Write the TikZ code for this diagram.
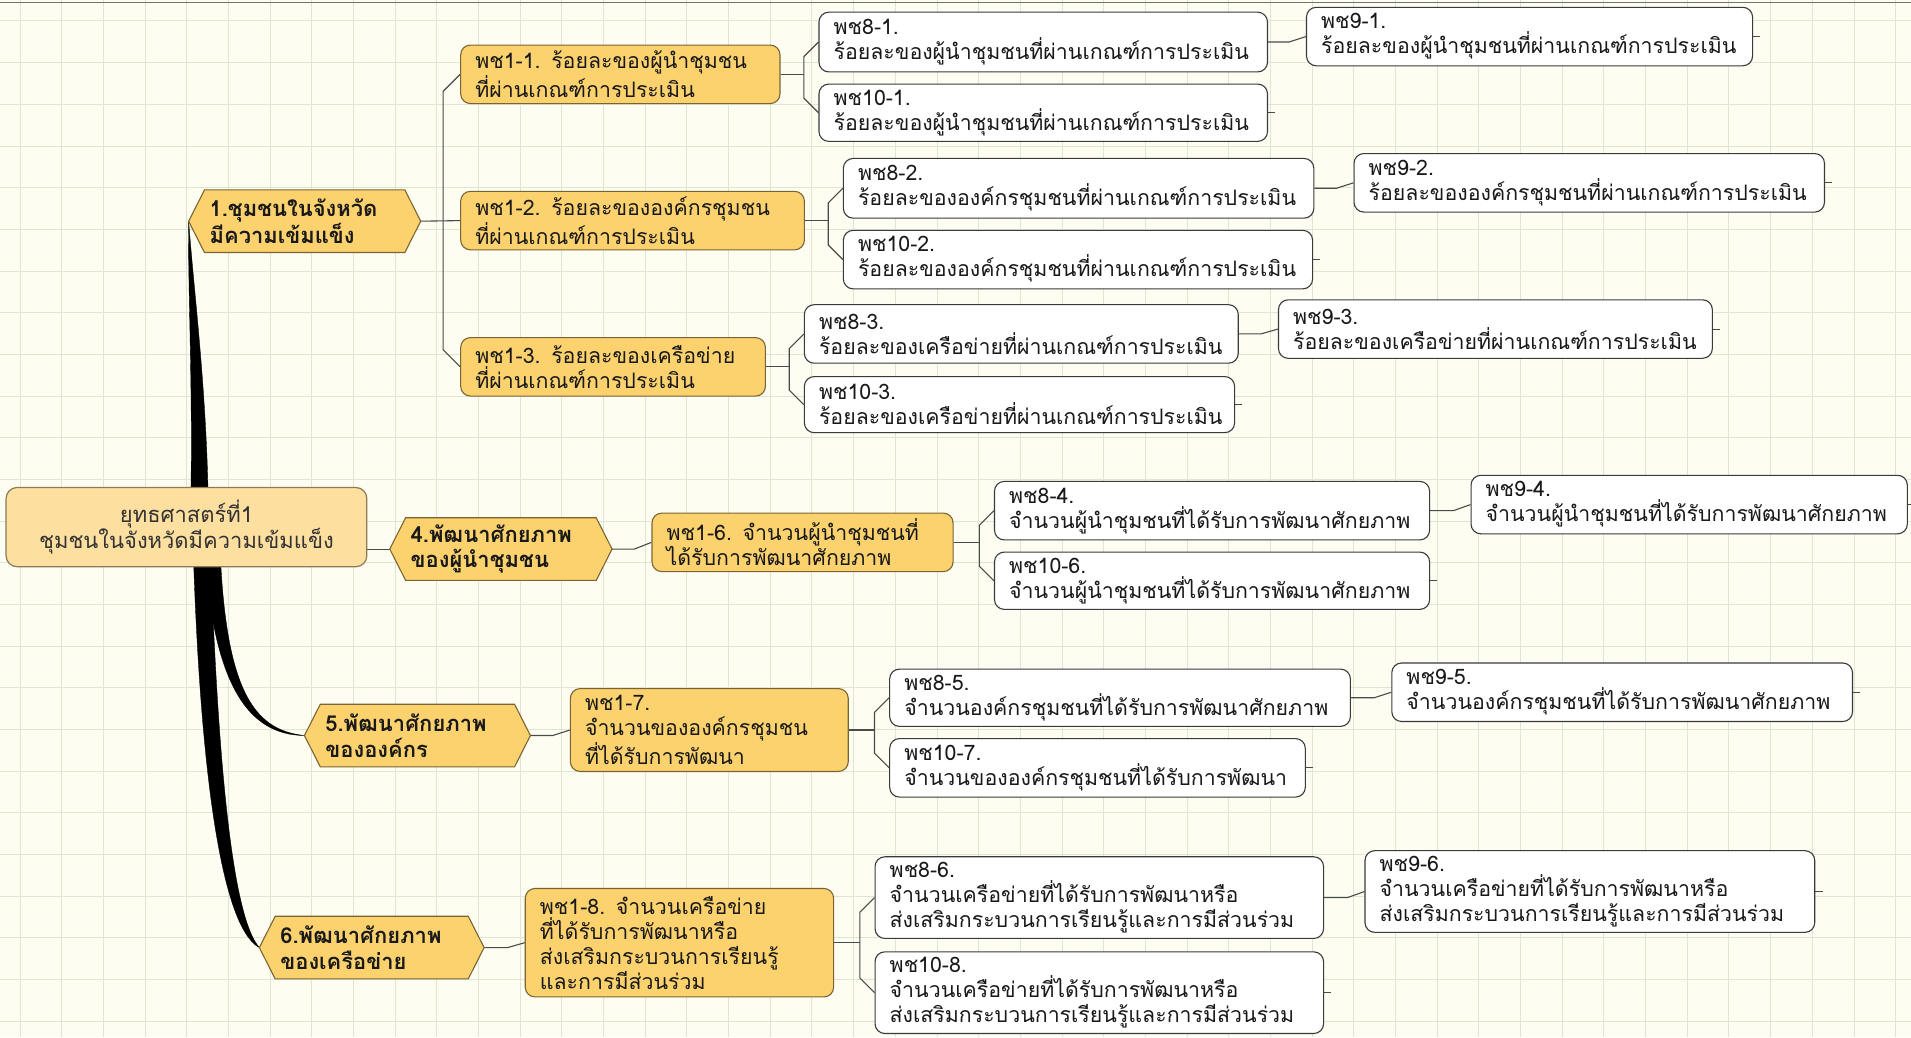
\documentclass[tikz,border=0pt]{standalone}
\usepackage{fontspec}
\usetikzlibrary{calc}
\newfontfamily\thai[Script=Thai]{Loma}
\definecolor{bgc}{HTML}{FDFDF1}
\definecolor{gridc}{HTML}{DEE5D2}
\definecolor{rootfill}{HTML}{FDDFA0}
\definecolor{rootdraw}{HTML}{8C7B55}
\definecolor{goldfill}{HTML}{FBD26E}
\definecolor{golddraw}{HTML}{7A6532}
\definecolor{boxdraw}{HTML}{3A3A3A}
\definecolor{conncol}{HTML}{4A4A4A}
\pgfdeclarelayer{gridlayer}
\pgfdeclarelayer{connlayer}
\pgfdeclarelayer{hexlayer}
\pgfsetlayers{gridlayer,connlayer,hexlayer,main}
\tikzset{
  txt/.style={font=\thai\fontsize{17.5}{20.5}\selectfont},
  rootbox/.style={font=\thai\fontsize{18}{22}\selectfont, rounded corners=9, draw=rootdraw, fill=rootfill, line width=1, align=center, text=black!80, minimum width=296, minimum height=65},
  catbox/.style={font=\thai\bfseries\fontsize{18}{21}\selectfont, align=left, inner xsep=17, inner ysep=2, text=black!90},
  catshape/.style={fill=goldfill, draw=golddraw, line width=0.9},
  lvtwo/.style={txt, rounded corners=8, draw=golddraw, fill=goldfill, line width=0.9, align=left, inner xsep=12, inner ysep=1, text=black!90},
  lvthree/.style={txt, rounded corners=8, draw=boxdraw, fill=white, line width=0.9, align=left, inner xsep=12, inner ysep=1, text=black!90},
  conn/.style={draw=conncol, line width=0.9},
  thickconn/.style={fill=black, draw=black, line width=0.3}
}
\begin{document}
\begin{tikzpicture}[x=1pt,y=-1pt]
\useasboundingbox (0,0) rectangle (1568,851);
\begin{pgfonlayer}{gridlayer}
\fill[bgc] (0,0) rectangle (1568,851);
\foreach \x in {0,...,45} { \draw[gridc, line width=0.8] ({16.4+34.2*\x},0) -- ({16.4+34.2*\x},851); }
\foreach \y in {0,...,24} { \draw[gridc, line width=0.8] (0,{17.2+34.2*\y}) -- (1568,{17.2+34.2*\y}); }
\draw[black!55, line width=1] (0,2) -- (1568,2);
\end{pgfonlayer}

% root
\node[rootbox] (root) at (153,432.5) {ยุทธศาสตร์ที่1\\ชุมชนในจังหวัดมีความเข้มแข็ง};

% categories
\node[catbox, text width=156, minimum height=51] (c1) at (250,181.5) {1.ชุมชนในจังหวัด\\มีความเข้มแข็ง};
\node[catbox, text width=148, minimum height=51] (c4) at (411,450.5) {4.พัฒนาศักยภาพ\\ของผู้นำชุมชน};
\node[catbox, text width=151, minimum height=51] (c5) at (342.5,603.5) {5.พัฒนาศักยภาพ\\ขององค์กร};
\node[catbox, text width=150, minimum height=51] (c6) at (305,777.5) {6.พัฒนาศักยภาพ\\ของเครือข่าย};

% level two
\node[lvtwo, text width=238, minimum height=48] (p11) at (509,61) {พช1-1. ร้อยละของผู้นำชุมชน\\ที่ผ่านเกณฑ์การประเมิน};
\node[lvtwo, text width=258, minimum height=48] (p12) at (519,181) {พช1-2. ร้อยละขององค์กรชุมชน\\ที่ผ่านเกณฑ์การประเมิน};
\node[lvtwo, text width=226, minimum height=48] (p13) at (503,301) {พช1-3. ร้อยละของเครือข่าย\\ที่ผ่านเกณฑ์การประเมิน};
\node[lvtwo, text width=223, minimum height=48] (p16) at (658.5,445) {พช1-6. จำนวนผู้นำชุมชนที่\\ได้รับการพัฒนาศักยภาพ};
\node[lvtwo, text width=204, minimum height=68] (p17) at (582,599) {พช1-7.\\จำนวนขององค์กรชุมชน\\ที่ได้รับการพัฒนา};
\node[lvtwo, text width=229, minimum height=89] (p18) at (557.5,773.5) {พช1-8. จำนวนเครือข่าย\\ที่ได้รับการพัฒนาหรือ\\ส่งเสริมกระบวนการเรียนรู้\\และการมีส่วนร่วม};

% level three
\node[lvthree, text width=344, minimum height=49] (n81) at (856,34.5) {พช8-1.\\ร้อยละของผู้นำชุมชนที่ผ่านเกณฑ์การประเมิน};
\node[lvthree, text width=344, minimum height=47] (n101) at (856,92.5) {พช10-1.\\ร้อยละของผู้นำชุมชนที่ผ่านเกณฑ์การประเมิน};
\node[lvthree, text width=342, minimum height=48] (n91) at (1255,30) {พช9-1.\\ร้อยละของผู้นำชุมชนที่ผ่านเกณฑ์การประเมิน};
\node[lvthree, text width=362, minimum height=49] (n82) at (885,154.5) {พช8-2.\\ร้อยละขององค์กรชุมชนที่ผ่านเกณฑ์การประเมิน};
\node[lvthree, text width=361, minimum height=48] (n102) at (884.5,213) {พช10-2.\\ร้อยละขององค์กรชุมชนที่ผ่านเกณฑ์การประเมิน};
\node[lvthree, text width=362, minimum height=48] (n92) at (1304,150) {พช9-2.\\ร้อยละขององค์กรชุมชนที่ผ่านเกณฑ์การประเมิน};
\node[lvthree, text width=332, minimum height=48] (n83) at (838,274) {พช8-3.\\ร้อยละของเครือข่ายที่ผ่านเกณฑ์การประเมิน};
\node[lvthree, text width=329, minimum height=46] (n103) at (836.5,332) {พช10-3.\\ร้อยละของเครือข่ายที่ผ่านเกณฑ์การประเมิน};
\node[lvthree, text width=332, minimum height=48] (n93) at (1227,270) {พช9-3.\\ร้อยละของเครือข่ายที่ผ่านเกณฑ์การประเมิน};
\node[lvthree, text width=333, minimum height=48] (n84) at (994.5,419) {พช8-4.\\จำนวนผู้นำชุมชนที่ได้รับการพัฒนาศักยภาพ};
\node[lvthree, text width=333, minimum height=47] (n106) at (994.5,476.5) {พช10-6.\\จำนวนผู้นำชุมชนที่ได้รับการพัฒนาศักยภาพ};
\node[lvthree, text width=334, minimum height=48] (n94) at (1386,414) {พช9-4.\\จำนวนผู้นำชุมชนที่ได้รับการพัฒนาศักยภาพ};
\node[lvthree, text width=354, minimum height=47] (n85) at (919,572.5) {พช8-5.\\จำนวนองค์กรชุมชนที่ได้รับการพัฒนาศักยภาพ};
\node[lvthree, text width=317, minimum height=48] (n107) at (900.5,630) {พช10-7.\\จำนวนขององค์กรชุมชนที่ได้รับการพัฒนา};
\node[lvthree, text width=354, minimum height=48] (n95) at (1331,568) {พช9-5.\\จำนวนองค์กรชุมชนที่ได้รับการพัฒนาศักยภาพ};
\node[lvthree, text width=344, minimum height=67] (n86) at (902,736.5) {พช8-6.\\จำนวนเครือข่ายที่ได้รับการพัฒนาหรือ\\ส่งเสริมกระบวนการเรียนรู้และการมีส่วนร่วม};
\node[lvthree, text width=344, minimum height=67] (n108) at (902,814.5) {พช10-8.\\จำนวนเครือข่ายที่ได้รับการพัฒนาหรือ\\ส่งเสริมกระบวนการเรียนรู้และการมีส่วนร่วม};
\node[lvthree, text width=345, minimum height=67] (n96) at (1304.5,731.5) {พช9-6.\\จำนวนเครือข่ายที่ได้รับการพัฒนาหรือ\\ส่งเสริมกระบวนการเรียนรู้และการมีส่วนร่วม};

% hexagon shapes behind category text
\begin{pgfonlayer}{hexlayer}
\foreach \c in {c1,c4,c5,c6} {
  \path[catshape] ([xshift=13pt]\c.north west) -- ([xshift=-13pt]\c.north east) -- (\c.east) -- ([xshift=-13pt]\c.south east) -- ([xshift=13pt]\c.south west) -- (\c.west) -- cycle;
}
\end{pgfonlayer}

\begin{pgfonlayer}{connlayer}
% thick tapered connectors from root
\path[thickconn] ($(root.center)+(3,0)$) .. controls (159,330) and (154,240) .. (c1.west) .. controls (159,240) and (171,330) .. ($(root.center)+(18,0)$) -- cycle;
\path[thickconn] ($(root.center)+(14,0)$) .. controls (172,565) and (205,603) .. (c5.west) .. controls (207,599) and (183,565) .. ($(root.center)+(27,0)$) -- cycle;
\path[thickconn] ($(root.center)+(5,0)$) .. controls (163,620) and (180,760) .. (c6.west) .. controls (190,752) and (178,620) .. ($(root.center)+(19,0)$) -- cycle;
\draw[conn] (c4.west -| root.east) -- (c4.west);

% category -> level two
\draw[conn] (c1.east) -- (p12.west);
\draw[conn] (p11.west) -- ++(-14,14) -- ($(p13.west)+(-14,-14)$) -- (p13.west);
\coordinate (k16) at ([xshift=-14pt]p16.west);
\draw[conn] (c4.east) -- (k16 |- c4.east) -- (p16.west);
\coordinate (k17) at ([xshift=-14pt]p17.west);
\draw[conn] (c5.east) -- (k17 |- c5.east) -- (p17.west);
\coordinate (k18) at ([xshift=-14pt]p18.west);
\draw[conn] (c6.east) -- (k18 |- c6.east) -- (p18.west);

% level two -> level three
\foreach \p/\a/\b in {p11/n81/n101, p12/n82/n102, p13/n83/n103, p16/n84/n106, p17/n85/n107, p18/n86/n108} {
  \coordinate (j) at ([xshift=-12pt]\a.west);
  \draw[conn] (\p.east) -- (j |- \p.east);
  \draw[conn] (\a.west) -- ++(-12,12) -- ($(\b.west)+(-12,-12)$) -- (\b.west);
}

% level three -> level three
\foreach \a/\c in {n81/n91, n82/n92, n83/n93, n84/n94, n85/n95, n86/n96} {
  \coordinate (k) at ([xshift=-14pt]\c.west);
  \draw[conn] (\a.east) -- (k |- \a.east) -- (\c.west);
}

% collapsed stubs
\foreach \n in {n101,n102,n103,n106,n107,n108,n91,n92,n93,n94,n95,n96} {
  \draw[conn] (\n.east) -- ++(6,0);
}
\end{pgfonlayer}
\end{tikzpicture}
\end{document}
